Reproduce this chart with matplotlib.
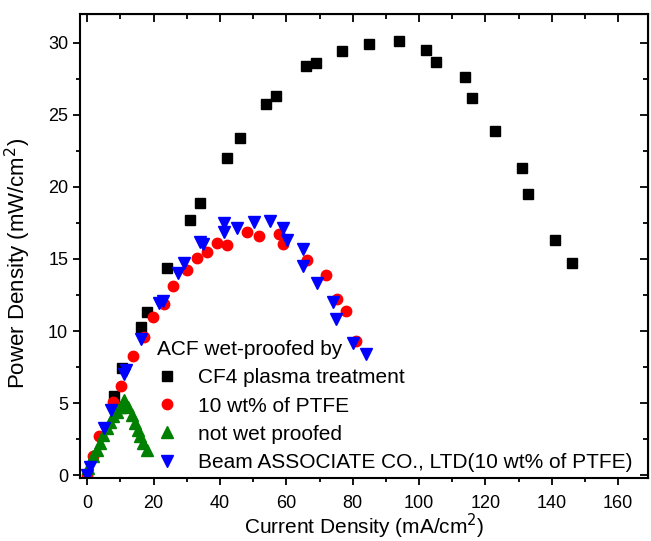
import matplotlib
matplotlib.use("Agg")
import matplotlib.pyplot as plt
from matplotlib.ticker import MultipleLocator

plt.rcParams['font.family'] = ['Liberation Sans', 'DejaVu Sans']

# CF4 plasma treatment
cf4_x = [8.0, 10.6, 16.1, 18.0, 24.0, 31.0, 34.0, 42.0, 45.9, 53.9, 56.9, 66.0, 69.0,
         76.9, 85.0, 93.9, 102.0, 105.1, 113.9, 115.9, 122.9, 130.9, 132.9, 141.0, 146.1]
cf4_y = [5.46, 7.45, 10.3, 11.3, 14.4, 17.7, 18.85, 22.0, 23.4, 25.76, 26.3, 28.4, 28.6,
         29.46, 29.95, 30.1, 29.5, 28.7, 27.6, 26.2, 23.86, 21.3, 19.5, 16.3, 14.7]

# 10 wt% of PTFE
ptfe_x = [0.0, 1.6, 3.6, 7.8, 10.1, 13.9, 17.0, 19.9, 23.0, 25.9, 30.1, 33.0, 36.0, 39.0,
          42.0, 48.0, 51.8, 57.9, 59.0, 66.2, 72.0, 75.2, 78.0, 81.1]
ptfe_y = [0.0, 1.3, 2.7, 5.1, 6.2, 8.25, 9.6, 11.0, 11.9, 13.1, 14.2, 15.1, 15.5, 16.1,
          16.0, 16.85, 16.6, 16.7, 16.06, 14.9, 13.9, 12.2, 11.4, 9.3]

# not wet proofed
nwp_x = [0.3, 1.8, 2.8, 3.8, 4.8, 5.9, 6.8, 7.8, 8.9, 9.9, 10.9, 11.1, 12.4, 13.4, 14.4,
         15.4, 15.9, 16.9, 17.9]
nwp_y = [0.5, 1.3, 1.75, 2.2, 2.8, 3.26, 3.7, 4.07, 4.4, 4.76, 5.0, 5.2, 4.76, 4.2, 3.6,
         3.15, 2.7, 2.2, 1.76]

# Beam ASSOCIATE CO., LTD (10 wt% of PTFE)
beam_x = [0.0, 0.8, 5.0, 7.1, 11.1, 11.7, 16.2, 21.7, 22.9, 27.2, 29.2, 34.0, 35.0, 41.2,
          41.2, 45.1, 50.1, 55.1, 58.9, 60.1, 65.0, 65.0, 69.2, 74.0, 75.0, 80.1, 84.1]
beam_y = [0.0, 0.55, 3.26, 4.5, 7.0, 7.3, 9.45, 11.95, 12.05, 14.0, 14.7, 16.15, 16.06, 17.5,
          16.9, 17.15, 17.55, 17.6, 17.15, 16.3, 15.7, 14.5, 13.3, 12.0, 10.85, 9.2, 8.4]

fig = plt.figure(figsize=(6.51, 5.41), dpi=100)
ax = fig.add_axes([0.1229, 0.1165, 0.8725, 0.8576])

ax.plot(cf4_x, cf4_y, ls='none', marker='s', ms=6.5, color='black',
        label='CF4 plasma treatment')
ax.plot(ptfe_x, ptfe_y, ls='none', marker='o', ms=7.5, color='#ff0000', mec='#ff0000',
        label='10 wt% of PTFE')
ax.plot(nwp_x, nwp_y, ls='none', marker='^', ms=8, color='#008000',
        label='not wet proofed')
ax.plot(beam_x, beam_y, ls='none', marker='v', ms=8.5, color='#0000ff',
        label='Beam ASSOCIATE CO., LTD(10 wt% of PTFE)')

ax.set_xlim(-2.2, 169)
ax.set_ylim(-0.2, 32)
ax.xaxis.set_major_locator(MultipleLocator(20))
ax.xaxis.set_minor_locator(MultipleLocator(10))
ax.yaxis.set_major_locator(MultipleLocator(5))
ax.yaxis.set_minor_locator(MultipleLocator(2.5))

for sp in ax.spines.values():
    sp.set_linewidth(1.5)

ax.tick_params(which='major', direction='out', length=5, width=1.3, labelsize=13)
ax.tick_params(axis='x', which='major', pad=7)
ax.tick_params(which='minor', direction='out', length=3, width=1.3)

# mirrored ticks on top and right, pointing in
top = ax.secondary_xaxis('top')
top.xaxis.set_major_locator(MultipleLocator(20))
top.xaxis.set_minor_locator(MultipleLocator(10))
top.tick_params(which='major', direction='in', length=6, width=1.3, labeltop=False)
top.tick_params(which='minor', direction='in', length=3.5, width=1.3)
right = ax.secondary_yaxis('right')
right.yaxis.set_major_locator(MultipleLocator(5))
right.yaxis.set_minor_locator(MultipleLocator(2.5))
right.tick_params(which='major', direction='in', length=6, width=1.3, labelright=False)
right.tick_params(which='minor', direction='in', length=3.5, width=1.3)

ax.set_xlabel('Current Density (mA/cm$^2$)', fontsize=15)
ax.xaxis.set_label_coords(0.5, -0.1045)
ax.xaxis.label.set_verticalalignment('center')
ax.set_ylabel('Power Density (mW/cm$^2$)', fontsize=16)
ax.yaxis.set_label_coords(-0.083, 0.463)

leg = ax.legend(loc='upper left', bbox_to_anchor=(0.135, 0.297), frameon=False,
                title='ACF wet-proofed by', title_fontsize=15, fontsize=15,
                alignment='left', borderpad=0, handlelength=1.0, handletextpad=1.0,
                labelspacing=0.44, borderaxespad=0)

fig.savefig('out.png', dpi=100)
